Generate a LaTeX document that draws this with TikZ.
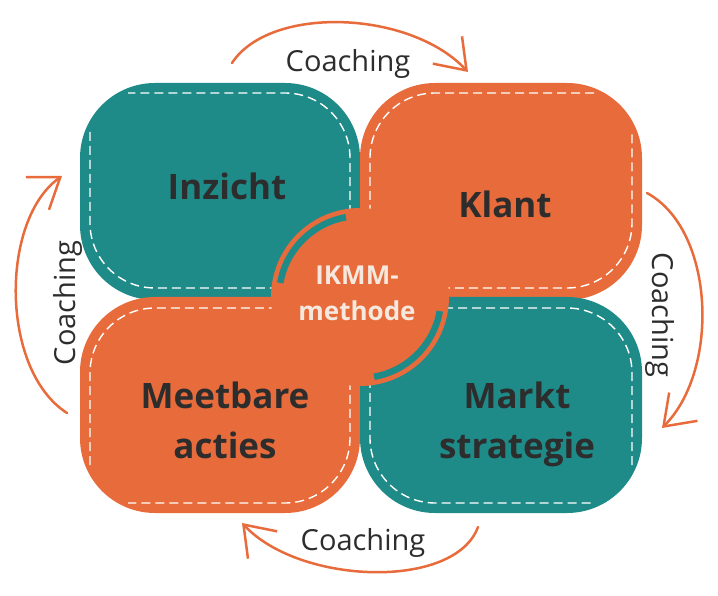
\documentclass[tikz,border=0pt]{standalone}
\usepackage{fontspec}
\setmainfont{Open Sans}
\usetikzlibrary{arrows.meta}
\definecolor{ikteal}{RGB}{30,139,137}
\definecolor{ikorange}{RGB}{232,107,59}
\definecolor{ikdark}{RGB}{45,45,45}
\definecolor{ikcream}{RGB}{245,232,222}

\begin{document}
\begin{tikzpicture}[x=1pt,y=-1pt,
            leaf/.style = {rounded corners=75pt},
            stitch/.style = {draw=white,line width=1.4pt,
                dash pattern=on 9pt off 5pt,rounded corners=65pt},
            lbl/.style = {text=ikdark,align=center,
                font=\bfseries\fontsize{35}{50}\selectfont},
            coach/.style = {text=ikdark,anchor=base,
                font=\fontsize{29}{30}\selectfont},
            coacharrow/.style = {draw=ikorange,line width=2.5pt,line cap=round,
                -{Straight Barb[length=28pt,width=40pt]}}]
            \useasboundingbox (0,0) rectangle (718,596);
            % the four leaves
            \fill[ikteal,leaf] (80,83) rectangle (360,300);
            \fill[ikorange,leaf] (360,83) rectangle (642,300);
            \fill[ikorange,leaf] (80,297) rectangle (360,513);
            \fill[ikteal,leaf] (360,297) rectangle (642,513);
            \draw[stitch] (90,132) -- (90,288) -- (350,288) -- (350,93) -- (128,93);
            \draw[stitch] (594,93) -- (370,93) -- (370,288) -- (632,288) -- (632,131);
            \draw[stitch] (90,465) -- (90,308) -- (350,308) -- (350,503) -- (128,503);
            \draw[stitch] (632,465) -- (632,308) -- (370,308) -- (370,503) -- (594,503);
            % hub
            \coordinate (hub) at (360,297);
            \fill[ikorange] (hub) circle[radius=89];
            \draw[ikteal,line width=6.5pt] (hub) ++(190:81) arc[start angle=190,end angle=260,radius=81];
            \draw[ikteal,line width=6.5pt] (hub) ++(10:81) arc[start angle=10,end angle=80,radius=81];
            \node[text=ikcream,align=center,font=\bfseries\fontsize{26}{36}\selectfont]
                (ikmm) at (357,293) {IKMM-\\methode};
            % labels
            \node[lbl,anchor=base](inzicht) at (227,200) {Inzicht};
            \node[lbl,anchor=base](klant) at (505,218) {Klant};
            \node[lbl](meetbare) at (225,420) {Meetbare\\acties};
            \node[lbl](markt) at (517,424) {Markt\\strategie};
            % coaching cycle
            \node[coach](c1) at (348,72) {Coaching};
            \node[coach,rotate=-90](c2) at (652,315) {Coaching};
            \node[coach](c3) at (363,550) {Coaching};
            \node[coach,rotate=90](c4) at (75,303) {Coaching};
            \coordinate (ta) at (232,63);
            \coordinate (tb) at (468,72);
            \coordinate (ra) at (647,193);
            \coordinate (rb) at (662,428);
            \coordinate (ba) at (478,527);
            \coordinate (bb) at (242,523);
            \coordinate (la) at (67,413);
            \coordinate (lb) at (62,176);
            \draw[coacharrow] (ta) .. controls (270,5) and (410,10) .. (tb);
            \draw[coacharrow] (ra) .. controls (715,230) and (720,370) .. (rb);
            \draw[coacharrow] (ba) .. controls (455,590) and (300,585) .. (bb);
            \draw[coacharrow] (la) .. controls (0,370) and (0,220) .. (lb);
\end{tikzpicture}
\end{document}
